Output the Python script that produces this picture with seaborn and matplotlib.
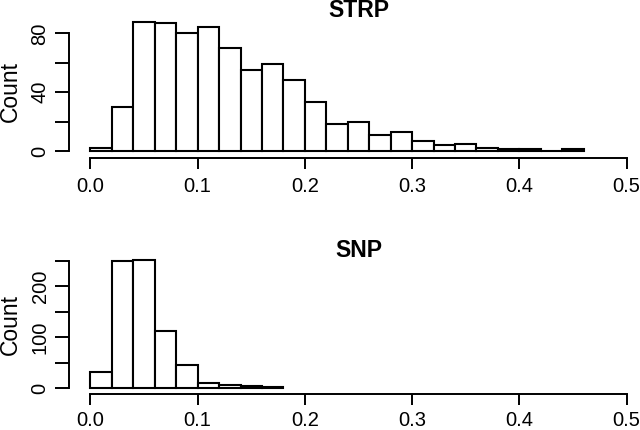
import numpy as np
import pandas as pd
import matplotlib
matplotlib.use("Agg")
import matplotlib.pyplot as plt
import seaborn as sns

# data: bin edges and counts
strp_edges = [round(0.02 * i, 2) for i in range(24)]
strp_counts = [2, 30, 88, 87, 80, 84, 70, 55, 59, 48, 33, 18, 20, 11, 13, 7, 4, 5, 2, 1, 1, 0, 1]
snp_edges = [round(0.02 * i, 2) for i in range(10)]
snp_counts = [32, 250, 252, 113, 45, 10, 7, 5, 3]

x_ticks = [0.0, 0.1, 0.2, 0.3, 0.4, 0.5]
x_ticklabels = ["0.0", "0.1", "0.2", "0.3", "0.4", "0.5"]

sns.set_style("ticks")
plt.rcParams['font.family'] = ['Liberation Sans', 'DejaVu Sans']
for key in ['text.color', 'axes.labelcolor', 'xtick.color', 'ytick.color', 'axes.edgecolor']:
    plt.rcParams[key] = 'black'

fig = plt.figure(figsize=(6.4, 4.3), dpi=100)
ax_top = fig.add_axes([69 / 640, 1 - 158.3 / 430, 579 / 640, (158.3 - 16) / 430])
ax_bot = fig.add_axes([69 / 640, 1 - 394 / 430, 579 / 640, (394 - 254.4) / 430])

panels = [
    (ax_top, "STRP", strp_edges, strp_counts, (-5.0, 91.8), [0, 20, 40, 60, 80], ["0", "", "40", "", "80"], 0.468, 0.993, 6),
    (ax_bot, "SNP", snp_edges, snp_counts, (-11, 262), [0, 50, 100, 150, 200, 250], ["0", "", "100", "", "200", ""], 0.5, 0.9835, 4.5),
]

for ax, name, edges, counts, ylim, yticks, yticklabels, ylab_y, title_y, xpad in panels:
    e = np.array(edges)
    df = pd.DataFrame({'mid': (e[:-1] + e[1:]) / 2, 'n': counts})
    sns.histplot(data=df, x='mid', weights='n', bins=edges, ax=ax,
                 color='white', edgecolor='black', linewidth=1.5, alpha=1)
    ax.set_xlim(-0.02, 0.52)
    ax.set_ylim(*ylim)
    ax.set_xticks(x_ticks)
    ax.set_xticklabels(x_ticklabels)
    ax.set_yticks(yticks)
    ax.set_yticklabels(yticklabels, rotation=90, va='center')
    ax.set_xlabel('')
    ax.set_ylabel('Count', fontsize=16.5)
    ax.yaxis.set_label_coords(-0.082, ylab_y)
    ax.tick_params(axis='x', length=7.7, width=1.4, labelsize=14.5, pad=xpad)
    ax.tick_params(axis='y', length=10, width=1.4, labelsize=14.5, pad=4)
    for side in ['top', 'right']:
        ax.spines[side].set_visible(False)
    ax.spines['left'].set_bounds(yticks[0], yticks[-1])
    ax.spines['bottom'].set_bounds(0, 0.5)
    ax.spines['left'].set_linewidth(1.4)
    ax.spines['bottom'].set_linewidth(1.4)
    ax.set_title(name, fontweight='bold', fontsize=16.6, y=title_y, pad=0, va='baseline')

fig.savefig('out.png', dpi=100)
